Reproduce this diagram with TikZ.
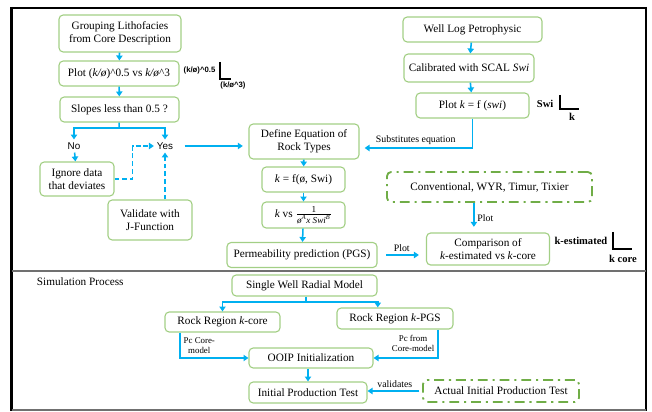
\documentclass[tikz,border=0pt]{standalone}
\usepackage{fontspec}
\setmainfont{Liberation Serif}
\newfontfamily\arialfont{Liberation Sans}
\usepackage{xcolor}
\usepackage{tikz}
\usetikzlibrary{arrows.meta}

\definecolor{boxgreen}{HTML}{A3CF85}
\definecolor{dashgreen}{HTML}{70AD47}
\definecolor{flowblue}{HTML}{00B0F0}
\definecolor{rulegray}{HTML}{707070}

\begin{document}
\begin{tikzpicture}[x=0.025cm, y=-0.025cm,
  box/.style={draw=boxgreen, line width=0.8pt, rounded corners=3pt,
    align=center, inner sep=1pt, font=\fontsize{8}{9.5}\selectfont},
  dashbox/.style={box, draw=dashgreen, line width=1.3pt,
    dash pattern=on 7pt off 3.5pt on 1.5pt off 3.5pt},
  flowline/.style={draw=flowblue, line width=1.1pt},
  flow/.style={flowline, -{Triangle[length=3.5pt,width=4.5pt]}},
  flowdash/.style={flow, dash pattern=on 3.5pt off 2pt},
  lbl/.style={font=\fontsize{7}{8}\selectfont, inner sep=2pt},
  smalllbl/.style={font=\fontsize{6.3}{7}\selectfont, align=center, inner sep=2pt},
  yesno/.style={font=\arialfont\fontsize{7}{8}\selectfont, inner sep=2pt},
  axis/.style={line width=1.3pt},
  axislbl/.style={font=\fontsize{7.5}{9}\selectfont\bfseries, inner sep=1pt}]

  \useasboundingbox (0,0) rectangle (652,412);

  % frame
  \draw[line width=1.5pt] (10,8) -- (647,8);
  \draw[line width=2.2pt] (11.5,7) -- (11.5,411);
  \draw[line width=1.5pt] (646,7) -- (646,411);
  \draw[rulegray, line width=0.8pt] (12,410) -- (646,410);
  \draw[rulegray, line width=0.8pt] (12,271) -- (646,271);

  % rock typing, left column
  \node[box, minimum width=3.05cm, minimum height=0.925cm] (group) at (120,33.5)
    {Grouping Lithofacies\\from Core Description};
  \node[box, minimum width=3.0cm, minimum height=0.625cm] (plotk) at (119,73.5)
    {Plot (\textit{k/ø})\textasciicircum0.5 vs \textit{k/ø}\textasciicircum3};
  \node[box, minimum width=2.975cm, minimum height=0.625cm] (slopes) at (119.5,109.5)
    {Slopes less than 0.5 ?};
  \node[yesno] (no) at (74,146) {No};
  \node[yesno] (yes) at (165,146) {Yes};
  \node[box, minimum width=1.85cm, minimum height=0.85cm] (ignore) at (77,179)
    {Ignore data\\that deviates};
  \node[box, minimum width=2.1cm, minimum height=1.0cm] (validate) at (150,220)
    {Validate with\\J-Function};

  % rock typing, middle column
  \node[box, minimum width=2.75cm, minimum height=0.875cm] (define) at (304,141.5)
    {Define Equation of\\Rock Types};
  \node[box, minimum width=2.075cm, minimum height=0.625cm] (kf) at (303.5,179.5)
    {\textit{k} = f(ø, Swi)};
  \node[box, minimum width=2.075cm, minimum height=0.65cm] (kvs) at (303.5,215)
    {\textit{k} vs \(\frac{\mbox{\fontsize{6.5}{7}\selectfont 1}}%
      {\mbox{\fontsize{6.5}{7}\selectfont\itshape ø\textsuperscript{A}x Swi\textsuperscript{B}}}\)};
  \node[box, minimum width=3.75cm, minimum height=0.625cm] (perm) at (302,255)
    {Permeability prediction (PGS)};

  % rock typing, right column
  \node[box, minimum width=3.475cm, minimum height=0.625cm] (well) at (472.5,29.5)
    {Well Log Petrophysic};
  \node[box, minimum width=3.25cm, minimum height=0.7cm] (calib) at (469,68)
    {Calibrated with SCAL \textit{Swi}};
  \node[box, minimum width=2.825cm, minimum height=0.625cm] (plotks) at (472.5,105.5)
    {Plot \textit{k} = f (\textit{swi})};
  \node[dashbox, minimum width=5.125cm, minimum height=0.75cm] (conv) at (489.5,187)
    {Conventional, WYR, Timur, Tixier};
  \node[box, minimum width=3.075cm, minimum height=0.8cm] (comp) at (488,249)
    {Comparison of\\\textit{k}-estimated vs \textit{k}-core};

  % small axes
  \draw[axis] (220,62) -- (220,79) -- (231,79);
  \node[axislbl, font=\arialfont\fontsize{5.5}{6}\selectfont\bfseries, anchor=east] (ax1y) at (217,71) {(k/ø)\textasciicircum0.5};
  \node[axislbl, font=\arialfont\fontsize{5.5}{6}\selectfont\bfseries] (ax1x) at (233,86) {(k/ø\textasciicircum3)};
  \draw[axis] (560,95) -- (560,109) -- (579,109);
  \node[axislbl, anchor=east] (ax2y) at (555,104) {Swi};
  \node[axislbl] (ax2x) at (572,117) {k};
  \draw[axis] (613,232) -- (613,249) -- (632,249);
  \node[axislbl, anchor=east] (ax3y) at (609,241) {k-estimated};
  \node[axislbl] (ax3x) at (623,259) {k core};

  % rock typing connectors
  \draw[flow] (group) -- (plotk);
  \draw[flow] (plotk) -- (slopes);
  \coordinate (split1) at (119,128);
  \draw[flowline] (slopes) -- (split1);
  \draw[flow] (split1) -| (no);
  \draw[flow] (split1) -| (yes);
  \draw[flow] (no) -- (ignore);
  \draw[flowdash] (ignore.east) -- ++(18,0) |- (yes);
  \draw[flowdash] (validate.north -| yes) -- (yes);
  \draw[flow, shorten <=6pt, shorten >=4pt] (yes) -- (yes -| define.west);
  \draw[flow] (define) -- (kf);
  \draw[flow] (kf) -- (kvs);
  \draw[flow] (kvs) -- (perm);
  \draw[flow, shorten <=6pt, shorten >=5pt] (perm.east) -- (perm.east -| comp.west)
    node[midway, above, lbl] {Plot};
  \draw[flow] (well) -- (calib);
  \draw[flow] (calib) -- (plotks);
  \coordinate (subst) at (359,148);
  \draw[flow, shorten >=4pt] (plotks) |- (subst)
    node[pos=0.75, above, lbl] {Substitutes equation};
  \draw[flow, shorten >=4pt] ([xshift=-0.39cm]conv.south) -- ([xshift=-0.39cm]conv.south |- comp.north)
    node[midway, right, lbl] {Plot};

  % simulation process
  \node[anchor=west, font=\fontsize{8}{9.5}\selectfont] (simproc) at (32,282) {Simulation Process};
  \node[box, minimum width=3.625cm, minimum height=0.525cm] (swrm) at (304.5,285.5)
    {Single Well Radial Model};
  \node[box, minimum width=2.875cm, minimum height=0.5cm] (rrcore) at (222.5,322)
    {Rock Region \textit{k}-core};
  \node[box, minimum width=2.9cm, minimum height=0.525cm] (rrpgs) at (395,318.5)
    {Rock Region \textit{k}-PGS};
  \node[box, minimum width=3.1cm, minimum height=0.5cm] (ooip) at (311,358)
    {OOIP Initialization};
  \node[box, minimum width=2.95cm, minimum height=0.525cm] (ipt) at (308,392.5)
    {Initial Production Test};
  \node[dashbox, minimum width=3.9cm, minimum height=0.55cm] (actual) at (501,391)
    {Actual Initial Production Test};

  % simulation connectors
  \coordinate (split2) at (306,302);
  \draw[flowline] (swrm.south -| split2) -- (split2);
  \draw[flow] (split2) -| (rrcore);
  \draw[flow] (split2) -| ([xshift=-0.43cm]rrpgs.north);
  \draw[flow] ([xshift=-1.06cm]rrcore.south) |- (ooip)
    node[pos=0.25, right, smalllbl] {Pc Core-\\model};
  \draw[flow] ([xshift=1.07cm]rrpgs.south) |- (ooip)
    node[pos=0.25, left, smalllbl] {Pc from\\Core-model};
  \draw[flow] (ipt.north |- ooip.south) -- (ipt.north);
  \draw[flow, shorten <=2pt] (actual.west) -- (actual.west -| ipt.east)
    node[midway, above, lbl] {validates};
\end{tikzpicture}
\end{document}
